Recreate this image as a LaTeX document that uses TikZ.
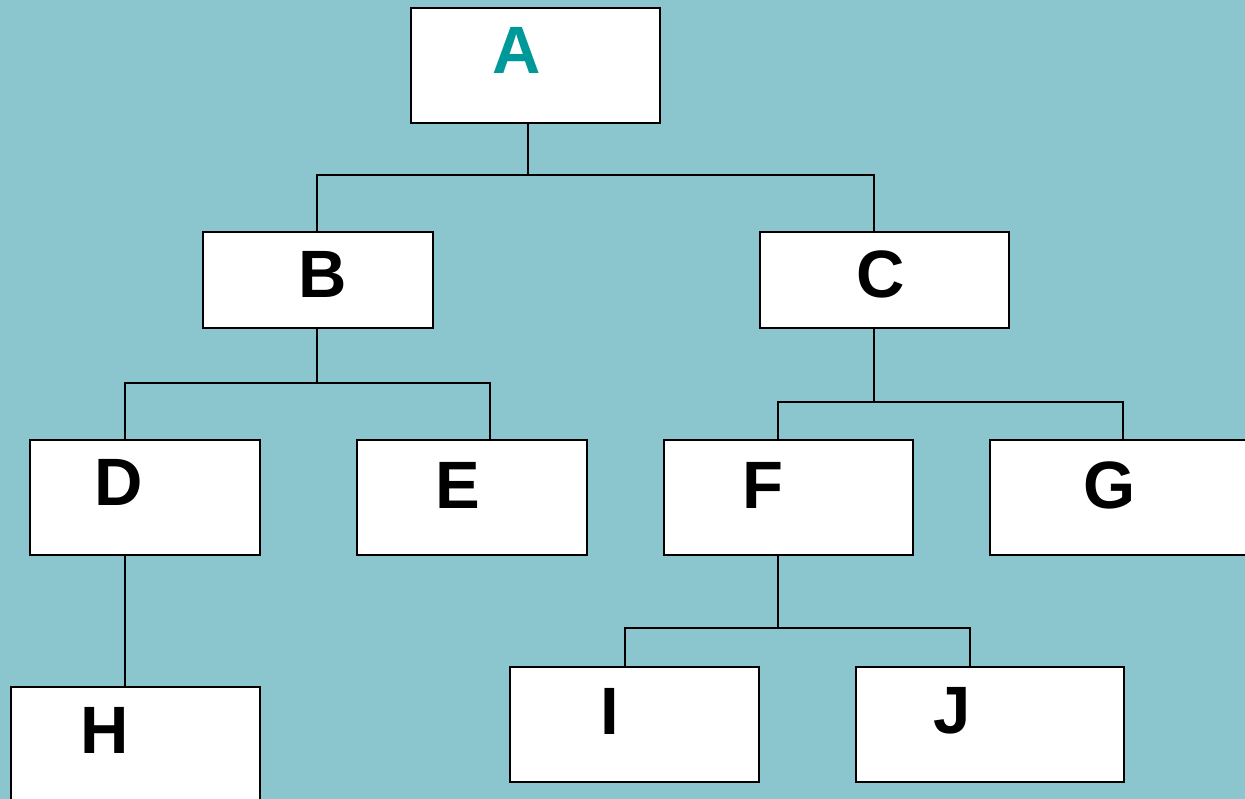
\documentclass[tikz,border=0pt]{standalone}
\usepackage{fontspec}
\setmainfont{Liberation Sans}
\definecolor{bgteal}{RGB}{139,198,206}
\definecolor{rootteal}{RGB}{0,153,153}
\tikzset{
  box/.style={draw=black, fill=white, line width=1.6pt, inner sep=0pt, anchor=north west},
  lbl/.style={inner sep=0pt, font=\fontsize{67}{75}\bfseries\selectfont},
  link/.style={black, line width=1.6pt}
}
\begin{document}
\begin{tikzpicture}[x=1pt, y=-1pt]
  \useasboundingbox (0,0) rectangle (1245,799);
  \clip (0,0) rectangle (1245,799);
  \fill[bgteal] (0,0) rectangle (1245,799);
  % boxes
  \node[box, minimum width=249pt, minimum height=115pt] (A) at (410,7) {};
  \node[box, minimum width=230pt, minimum height=96pt] (B) at (202,231) {};
  \node[box, minimum width=249pt, minimum height=96pt] (C) at (759,231) {};
  \node[box, minimum width=230pt, minimum height=115pt] (D) at (29,439) {};
  \node[box, minimum width=230pt, minimum height=115pt] (E) at (356,439) {};
  \node[box, minimum width=249pt, minimum height=115pt] (F) at (663,439) {};
  \node[box, minimum width=300pt, minimum height=115pt] (G) at (989,439) {};
  \node[box, minimum width=249pt, minimum height=140pt] (H) at (10,686) {};
  \node[box, minimum width=249pt, minimum height=115pt] (I) at (509,666) {};
  \node[box, minimum width=268pt, minimum height=115pt] (J) at (855,666) {};
  % letters
  \node[lbl, text=rootteal] (tA) at (517,50) {A};
  \node[lbl] (tB) at (323,274) {B};
  \node[lbl] (tC) at (881,274) {C};
  \node[lbl] (tD) at (119,482) {D};
  \node[lbl] (tE) at (458,485) {E};
  \node[lbl] (tF) at (763,485) {F};
  \node[lbl] (tG) at (1110,485) {G};
  \node[lbl] (tH) at (105,730) {H};
  \node[lbl] (tI) at (610,711) {I};
  \node[lbl] (tJ) at (952,711) {J};
  % junctions
  \coordinate (jA) at (528,175); \coordinate (jAl) at (317,175); \coordinate (jAr) at (874,175);
  \coordinate (jB) at (317,383); \coordinate (jBl) at (125,383); \coordinate (jBr) at (490,383);
  \coordinate (jC) at (874,402); \coordinate (jCl) at (778,402); \coordinate (jCr) at (1123,402);
  \coordinate (jF) at (778,628); \coordinate (jFl) at (625,628); \coordinate (jFr) at (970,628);
  % links
  \draw[link] (A.south -| jA) -- (jA);
  \draw[link] (B.north -| jAl) -- (jAl) -- (jAr) -- (C.north -| jAr);
  \draw[link] (B.south -| jB) -- (jB);
  \draw[link] (D.north -| jBl) -- (jBl) -- (jBr) -- (E.north -| jBr);
  \draw[link] (C.south -| jC) -- (jC);
  \draw[link] (F.north -| jCl) -- (jCl) -- (jCr) -- (G.north -| jCr);
  \draw[link] (D.south -| jBl) -- (H.north -| jBl);
  \draw[link] (F.south -| jF) -- (jF);
  \draw[link] (I.north -| jFl) -- (jFl) -- (jFr) -- (J.north -| jFr);
\end{tikzpicture}
\end{document}
